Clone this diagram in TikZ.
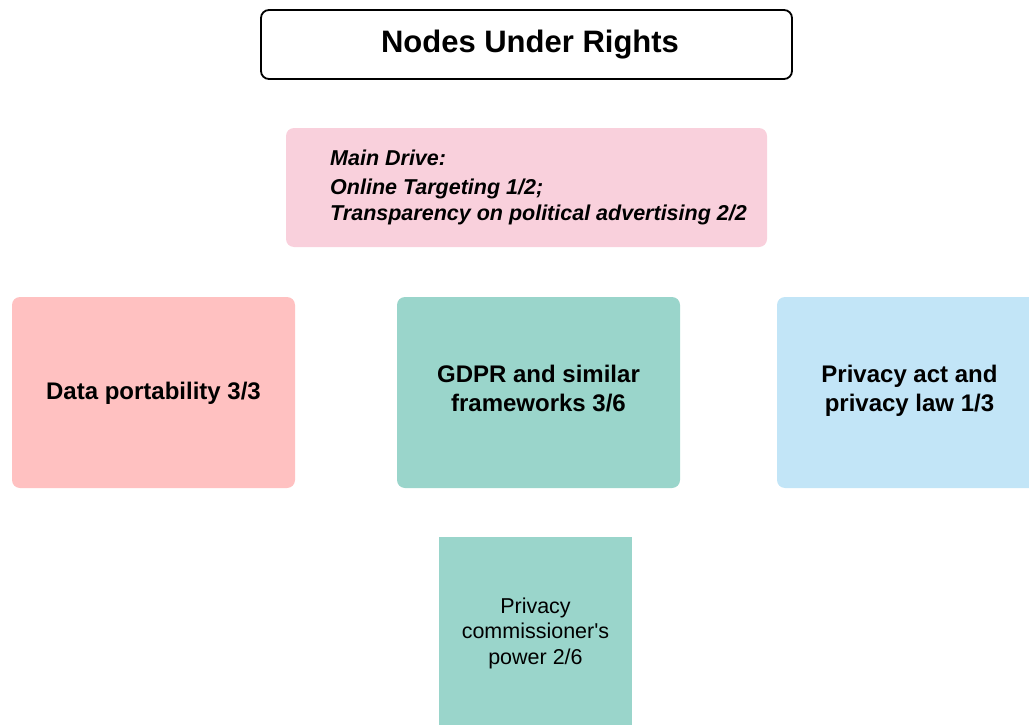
\documentclass[tikz,border=0pt]{standalone}
\usepackage{fontspec}
\setmainfont{Liberation Sans}
\definecolor{pinkbg}{HTML}{F9D0DC}
\definecolor{redbg}{HTML}{FFC1C1}
\definecolor{tealbg}{HTML}{9AD5CB}
\definecolor{bluebg}{HTML}{C2E5F7}
\begin{document}
\begin{tikzpicture}[x=1pt,y=-1pt,
  card/.style={rounded corners=8pt, draw=none, minimum width=283pt, minimum height=191pt,
    align=center, inner sep=0pt},
  cardtext/.style={align=center, inner sep=0pt, font=\fontsize{24}{29}\selectfont\bfseries},
  titlebox/.style={rounded corners=8pt, draw=black, line width=1.8pt, fill=white,
    minimum width=531pt, minimum height=69pt, inner sep=0pt},
]
\useasboundingbox (0,0) rectangle (1029,725);
\clip (0,0) rectangle (1029,725);
\node[titlebox] (title) at (526.5,44.5) {};
\node[font=\fontsize{31}{36}\selectfont\bfseries, inner sep=0pt] (titletext) at (530,44.5) {Nodes Under Rights};
\node[fill=pinkbg, rounded corners=8pt, minimum width=481pt, minimum height=119pt, inner sep=0pt] (drive) at (526.5,187.5) {};
\node[anchor=west, align=left, inner sep=0pt, font=\fontsize{21.5}{26}\selectfont\bfseries\itshape] (drivetext) at (330,187.5)
  {Main Drive:\\[3pt] Online Targeting 1/2;\\ Transparency on political advertising 2/2};
\node[card, fill=redbg] (data) at (153.5,392.5) {};
\node[cardtext] (datatext) at (153.5,393) {Data portability 3/3};
\node[card, fill=tealbg] (gdpr) at (538.5,392.5) {};
\node[cardtext] (gdprtext) at (538.5,388.5) {GDPR and similar\\frameworks 3/6};
\node[card, fill=bluebg, minimum width=300pt] (privacy) at (927,392.5) {};
\node[cardtext] (privacytext) at (909.5,390.5) {Privacy act and\\privacy law 1/3};
\node[fill=tealbg, minimum width=193pt, minimum height=192pt, inner sep=0pt] (commish) at (535.5,633) {};
\node[align=center, inner sep=0pt, font=\fontsize{21.5}{25.5}\selectfont] (commishtext) at (535.5,633)
  {Privacy\\commissioner\textquotesingle s\\power 2/6};
\end{tikzpicture}
\end{document}
